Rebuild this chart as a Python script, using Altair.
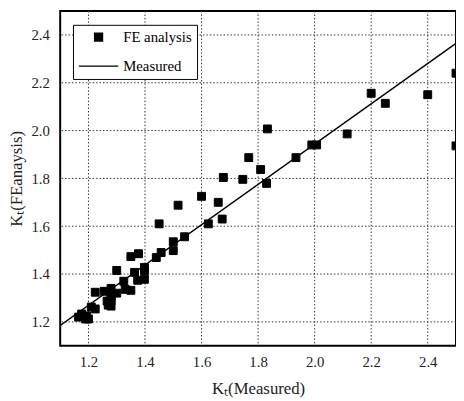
import altair as alt
import pandas as pd

fe_x = [1.165, 1.176, 1.19, 1.193, 1.2, 1.21, 1.224, 1.224, 1.256, 1.266, 1.27, 1.28, 1.28, 1.28,
        1.28, 1.28, 1.30, 1.30, 1.325, 1.33, 1.35, 1.35, 1.363, 1.374, 1.377, 1.398, 1.398, 1.398,
        1.44, 1.45, 1.457, 1.50, 1.50, 1.517, 1.54, 1.60, 1.624, 1.659, 1.673, 1.677, 1.746, 1.767,
        1.809, 1.83, 1.833, 1.934, 1.99, 2.007, 2.115, 2.20, 2.25, 2.40, 2.50, 2.50]
fe_y = [1.22, 1.233, 1.212, 1.225, 1.212, 1.262, 1.254, 1.324, 1.328, 1.287, 1.27, 1.34, 1.307,
        1.287, 1.266, 1.30, 1.32, 1.415, 1.37, 1.336, 1.332, 1.473, 1.407, 1.374, 1.485, 1.415,
        1.378, 1.428, 1.469, 1.61, 1.49, 1.498, 1.535, 1.688, 1.556, 1.725, 1.61, 1.70, 1.63,
        1.804, 1.796, 1.887, 1.837, 1.779, 2.007, 1.887, 1.94, 1.94, 1.986, 2.156, 2.114, 2.15,
        2.24, 1.936]
line_x = [1.1, 2.5]
line_y = [1.185, 2.365]
ticks = [1.2, 1.4, 1.6, 1.8, 2.0, 2.2, 2.4]

pts = pd.DataFrame({"x": fe_x, "y": fe_y, "series": "FE analysis"})
ln = pd.DataFrame({"x": line_x, "y": line_y})
tk = pd.DataFrame({"t": ticks})

FONT = "Liberation Serif"
xs = alt.Scale(domain=[1.1, 2.5], nice=False, zero=False)
ys = alt.Scale(domain=[1.1, 2.5], nice=False, zero=False)

xax = alt.Axis(values=ticks, format=".1f", title="Kₜ(Measured)", labelPadding=9, titlePadding=11,
               grid=False, labelFont=FONT, labelFontSize=15, labelColor="#222222")
yax = alt.Axis(values=ticks, format=".1f", title="Kₜ(FEanaysis)", labelPadding=11, titlePadding=6,
               grid=False, labelFont=FONT, labelFontSize=15, labelColor="#222222")

vgrid = alt.Chart(tk).mark_rule(color="#333333", strokeDash=[1.5, 2], strokeWidth=1).encode(
    x=alt.X("t:Q", scale=xs, axis=xax))
hgrid = alt.Chart(tk).mark_rule(color="#333333", strokeDash=[1.5, 2], strokeWidth=1).encode(
    y=alt.Y("t:Q", scale=ys, axis=yax))

points = alt.Chart(pts).mark_point(filled=False, fill="black", fillOpacity=1, stroke="black",
                                   strokeWidth=1, opacity=1, clip=True).encode(
    x=alt.X("x:Q", scale=xs, axis=xax),
    y=alt.Y("y:Q", scale=ys, axis=yax),
    shape=alt.Shape("series:N",
                    scale=alt.Scale(domain=["FE analysis", "Measured"], range=["square", "stroke"]),
                    legend=alt.Legend(title=None, orient="none", legendX=13, legendY=14,
                                      labelFont=FONT, labelFontSize=15, labelColor="black",
                                      strokeColor="black", fillColor="white", padding=5,
                                      symbolStrokeColor="black", symbolFillColor="black",
                                      symbolStrokeWidth=1.4, rowPadding=0, labelOffset=4)),
    size=alt.Size("series:N",
                  scale=alt.Scale(domain=["FE analysis", "Measured"], range=[64, 1600]),
                  legend=alt.Legend(title=None, orient="none", legendX=13, legendY=14)),
)

line = alt.Chart(ln).mark_line(color="black", strokeWidth=1.6, clip=True).encode(
    x=alt.X("x:Q", scale=xs, axis=xax),
    y=alt.Y("y:Q", scale=ys, axis=yax),
)

chart = alt.layer(vgrid, hgrid, line, points).properties(
    width=402, height=340,
    autosize=alt.AutoSizeParams(type="none"),
    padding={"left": 53, "top": 0, "right": 0, "bottom": 53},
    background="white",
).configure_view(stroke="black", strokeWidth=2).configure_axis(
    ticks=False, domain=False, grid=False,
    titleFont=FONT, titleFontSize=17, titleFontWeight="normal", titleColor="#222222",
)

chart.save("out.html", embed_options={"renderer": "svg", "actions": False})
